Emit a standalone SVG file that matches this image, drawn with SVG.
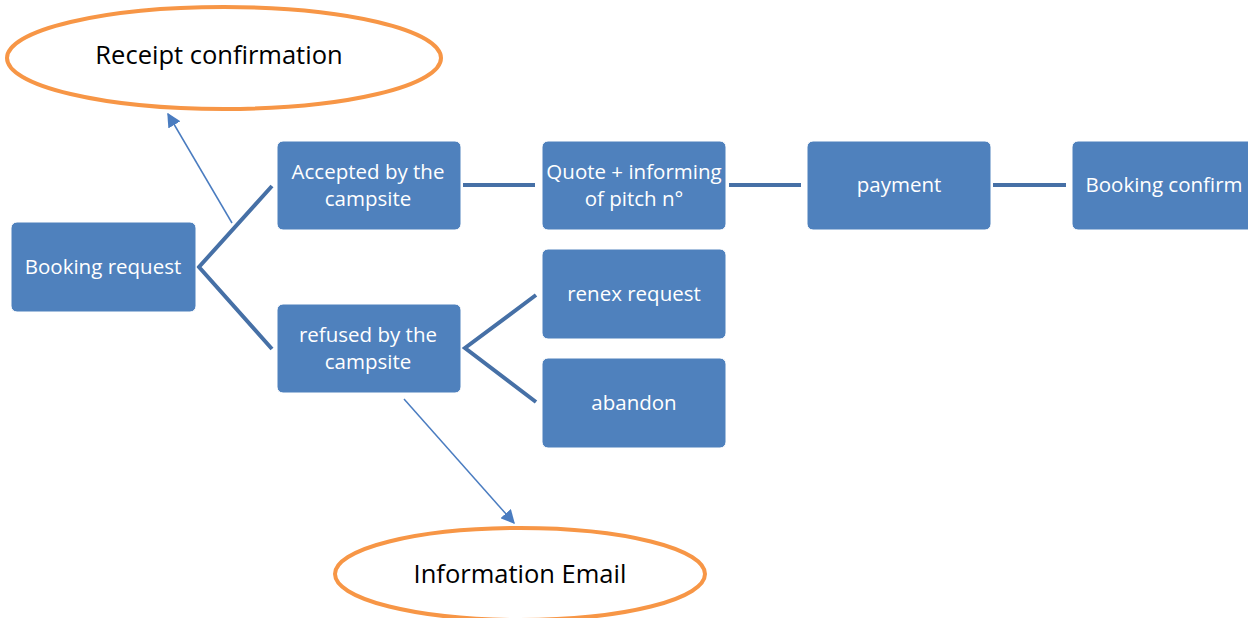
<svg xmlns="http://www.w3.org/2000/svg" width="1248" height="618" viewBox="0 0 1248 618">
<style>
.box{fill:#4F81BD;stroke:#ffffff;stroke-width:1}
.bt{fill:#ffffff;font-family:"Open Sans","Liberation Sans",sans-serif;font-size:20.5px;text-anchor:middle}
.conn{stroke:#4670A6;stroke-width:4;fill:none}
.thin{stroke:#4A7CC0;stroke-width:1.5;fill:none}
.ell{fill:#ffffff;stroke:#F79646;stroke-width:4}
.et{fill:#000000;font-family:"Open Sans","Liberation Sans",sans-serif;font-size:25.5px;text-anchor:middle}
</style>
<defs>
<marker id="arr2" viewBox="0 0 10 10" refX="9" refY="5" markerWidth="14" markerHeight="14" orient="auto" markerUnits="userSpaceOnUse">
<path d="M0,0 L10,5 L0,10 z" fill="#4A7CC0"/>
</marker>
</defs>
<rect width="1248" height="618" fill="#ffffff"/>
<g id="connectors">
<polyline class="conn" points="272,186 199,267 272,349"/>
<line class="conn" x1="463" y1="185" x2="535" y2="185"/>
<line class="conn" x1="729" y1="185" x2="801" y2="185"/>
<line class="conn" x1="993" y1="185" x2="1066" y2="185"/>
<polyline class="conn" points="536,295 465,348 536,402"/>
<line class="thin" x1="232" y1="223" x2="168" y2="114" marker-end="url(#arr2)"/>
<line class="thin" x1="404" y1="399" x2="514" y2="523" marker-end="url(#arr2)"/>
</g>
<g id="receipt">
<ellipse class="ell" cx="224" cy="58" rx="217" ry="51"/>
<text class="et" x="219" y="64">Receipt confirmation</text>
</g>
<g id="info-email">
<ellipse class="ell" cx="520" cy="574" rx="185" ry="46"/>
<text class="et" x="520" y="583">Information Email</text>
</g>
<g id="booking-request">
<rect class="box" x="11" y="222" width="185" height="90" rx="6"/>
<text class="bt" x="103" y="274">Booking request</text>
</g>
<g id="accepted">
<rect class="box" x="277" y="141" width="184" height="89" rx="6"/>
<text class="bt" x="368" y="179">Accepted by the</text>
<text class="bt" x="368" y="206">campsite</text>
</g>
<g id="refused">
<rect class="box" x="277" y="304" width="184" height="89" rx="6"/>
<text class="bt" x="368" y="342">refused by the</text>
<text class="bt" x="368" y="369">campsite</text>
</g>
<g id="quote">
<rect class="box" x="542" y="141" width="184" height="89" rx="6"/>
<text class="bt" x="634" y="179">Quote + informing</text>
<text class="bt" x="634" y="206">of pitch n°</text>
</g>
<g id="payment">
<rect class="box" x="807" y="141" width="184" height="89" rx="6"/>
<text class="bt" x="899" y="192">payment</text>
</g>
<g id="booking-confirm">
<rect class="box" x="1072" y="141" width="184" height="89" rx="6"/>
<text class="bt" x="1164" y="192">Booking confirm</text>
</g>
<g id="renex">
<rect class="box" x="542" y="249" width="184" height="90" rx="6"/>
<text class="bt" x="634" y="301">renex request</text>
</g>
<g id="abandon">
<rect class="box" x="542" y="358" width="184" height="90" rx="6"/>
<text class="bt" x="634" y="410">abandon</text>
</g>
</svg>
